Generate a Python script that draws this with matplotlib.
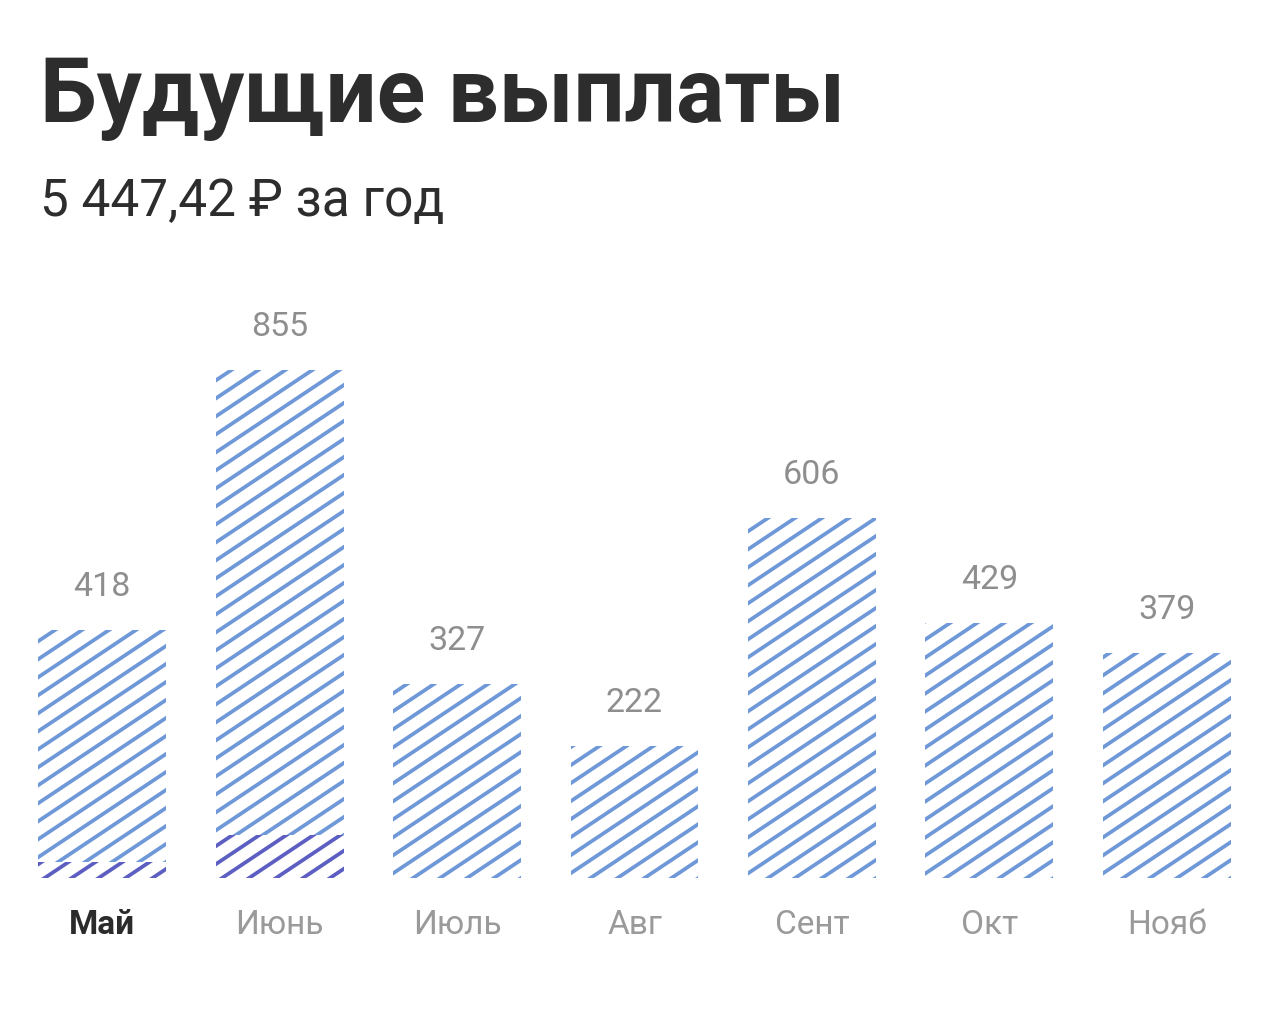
import numpy as np
import matplotlib
matplotlib.use('Agg')
from matplotlib import pyplot as plt
from matplotlib.lines import Line2D
from matplotlib.transforms import IdentityTransform

plt.rcParams['font.family'] = ['Roboto', 'DejaVu Sans']

months = ['Май', 'Июнь', 'Июль', 'Авг', 'Сент', 'Окт', 'Нояб']
totals = [418, 855, 327, 222, 606, 429, 379]
received = [27, 72, 0, 0, 0, 0, 0]   # уже выплачено (фиолетовая часть)
title = 'Будущие выплаты'
subtitle = '5 447,42 ₽ за год'

BLUE = '#6f98d8'
PURPLE = '#5c5ec2'
W, H = 1280, 1021

fig = plt.figure(figsize=(W / 100, H / 100), dpi=100)
fig.patch.set_facecolor('white')

# оси подогнаны под пиксели: база столбцов на y=878 (сверху)
ax = fig.add_axes([0, 143 / H, 1, 578 / H])
ax.set_xlim(-0.575, 6.637)
ax.set_ylim(0, 973)
ax.axis('off')

x = np.arange(len(months))
bw = 0.721


def hatch_fill(bar, color, phase=0.0):
    # диагональная штриховка ~34 градусов, линии обрезаются по столбцу
    fig.canvas.draw()
    bb = bar.get_window_extent()
    slope = 0.667
    step = 18.0
    c0 = bb.y0 - slope * bb.x1 - step + phase
    c1 = bb.y1 - slope * bb.x0 + step
    for c in np.arange(c0, c1, step):
        ln = Line2D([bb.x0 - 5, bb.x1 + 5],
                    [c + slope * (bb.x0 - 5), c + slope * (bb.x1 + 5)],
                    transform=IdentityTransform(), color=color, lw=2.7,
                    solid_capstyle='butt')
        ln.set_clip_path(bar)
        fig.add_artist(ln)


upper = [t - r for t, r in zip(totals, received)]
bars_top = ax.bar(x, upper, bw, bottom=received, color='none', edgecolor='none')
bars_low = ax.bar(x, received, bw, color='none', edgecolor='none')

for b in bars_top:
    hatch_fill(b, BLUE)
for b, r in zip(bars_low, received):
    if r > 0:
        hatch_fill(b, PURPLE, phase=9)
        # тонкий белый разделитель
        ax.plot([b.get_x(), b.get_x() + bw], [r, r], color='white', lw=1.5)

for xi, t in zip(x, totals):
    ax.annotate(str(t), (xi, t), xytext=(0, 34), textcoords='offset pixels',
                ha='center', va='baseline', fontsize=24.5, color='#8e8e8e')

for i, m in enumerate(months):
    ax.annotate(m, (x[i], 0), xytext=(0, -56), textcoords='offset pixels',
                ha='center', va='baseline', fontsize=24,
                color='#2b2b2b' if i == 0 else '#9a9a9a',
                fontweight='bold' if i == 0 else 'normal')

fig.text(40 / W, 1 - 122 / H, title, fontsize=65, fontweight='bold',
         color='#2d2d2d', ha='left', va='baseline')
fig.text(40 / W, 1 - 216 / H, subtitle, fontsize=37, color='#2d2d2d',
         ha='left', va='baseline')

plt.savefig('out.png', dpi=100, facecolor='white')
